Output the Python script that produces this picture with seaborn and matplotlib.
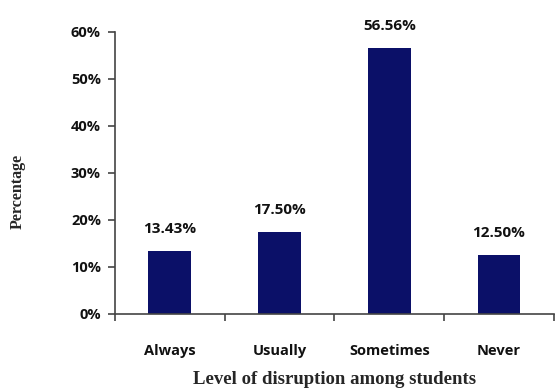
import matplotlib
matplotlib.use("Agg")
import matplotlib.pyplot as plt
import seaborn as sns
import pandas as pd
from matplotlib.ticker import FixedLocator, PercentFormatter

categories = ["Always", "Usually", "Sometimes", "Never"]
values = [13.43, 17.50, 56.56, 12.50]
value_labels = ["13.43%", "17.50%", "56.56%", "12.50%"]
yticks = [0, 10, 20, 30, 40, 50, 60]

sns.set_style("white")
plt.rcParams['font.family'] = ['Open Sans', 'DejaVu Sans']

df = pd.DataFrame({"cat": categories, "val": values})

fig = plt.figure(figsize=(5.55, 3.88), dpi=100)
ax = fig.add_axes([0.207, 0.191, 0.791, 0.727])
sns.barplot(data=df, x="cat", y="val", color="#0b1068", width=0.39, ax=ax,
            saturation=1, edgecolor="none")

ax.set_xlim(-0.5, 3.5)
ax.set_ylim(0, 60)
ax.set_yticks(yticks)
ax.yaxis.set_major_formatter(PercentFormatter(decimals=0))
for s in ["top", "right"]:
    ax.spines[s].set_visible(False)
for s in ["left", "bottom"]:
    ax.spines[s].set_color("#444444")
    ax.spines[s].set_linewidth(1.2)

ax.tick_params(axis="x", which="major", length=0, pad=22, labelsize=10.5)
ax.xaxis.set_minor_locator(FixedLocator([-0.5, 0.5, 1.5, 2.5, 3.5]))
ax.tick_params(axis="x", which="minor", length=5, width=1.2, color="#444444", direction="out", bottom=True)
ax.tick_params(axis="y", length=5, width=1.2, color="#444444", direction="out", left=True, labelsize=10.5, pad=5)
for lab in ax.get_xticklabels() + ax.get_yticklabels():
    lab.set_fontweight("bold")
    lab.set_color("#111111")

for i, (v, t) in enumerate(zip(values, value_labels)):
    ax.text(i, v + 3.2, t, ha="center", va="bottom", fontsize=11,
            fontweight="bold", color="#111111")

ax.set_xlabel("Level of disruption among students", family="Liberation Serif",
              fontweight="bold", fontsize=13.5, labelpad=9)
ax.set_ylabel("Percentage", family="Liberation Serif", fontweight="bold",
              fontsize=11.5)
ax.yaxis.set_label_coords(-0.203, 0.433)

fig.savefig("out.png", dpi=100)
